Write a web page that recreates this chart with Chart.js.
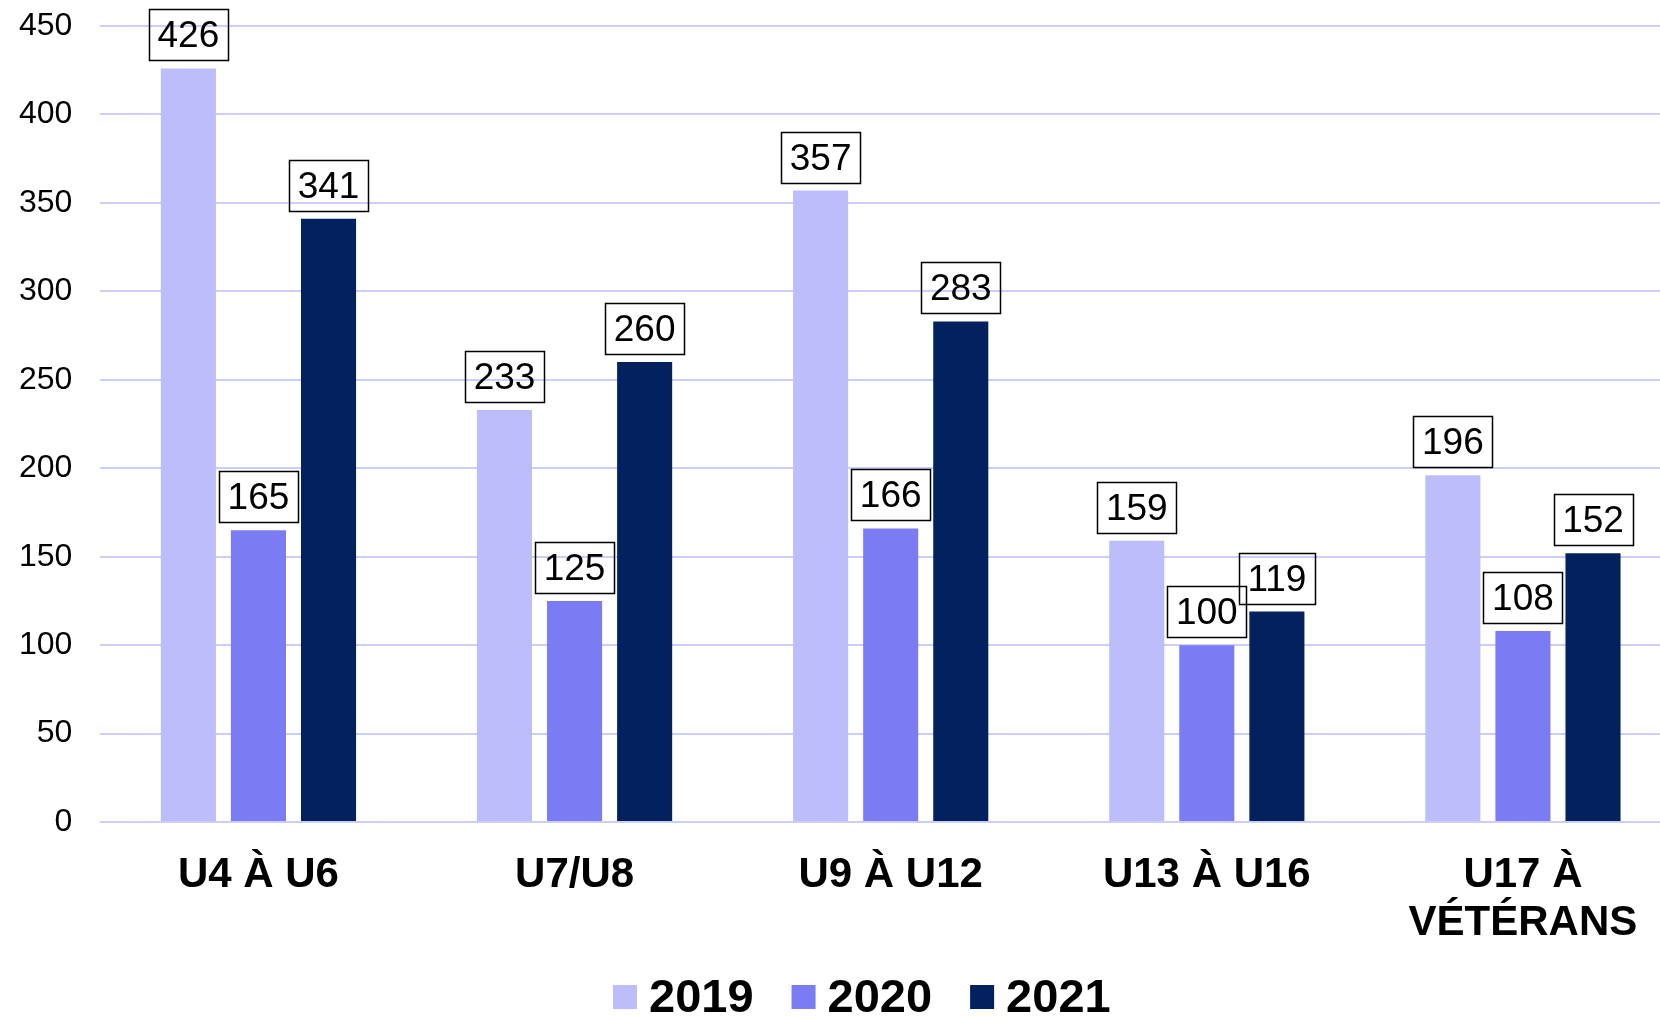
<!DOCTYPE html>
<html><head><meta charset="utf-8">
<script src="https://cdn.jsdelivr.net/npm/chart.js@4/dist/chart.umd.min.js"></script>
<style>
html,body{margin:0;padding:0;background:#fff;overflow:hidden;}
#wrap{width:1660px;height:1017px;overflow:hidden;position:relative;}
canvas{display:block;}
</style></head><body>
<div id="wrap"><canvas id="c" width="1722" height="1017" style="width:1722px;height:1017px"></canvas></div>
<script>
const categories = [["U4 À U6"], ["U7/U8"], ["U9 À U12"], ["U13 À U16"], ["U17 À", "VÉTÉRANS"]];
const seriesNames = ["2019", "2020", "2021"];
const values2019 = [426, 233, 357, 159, 196];
const values2020 = [165, 125, 166, 100, 108];
const values2021 = [341, 260, 283, 119, 152];
const yMin = 0, yMax = 450, yStep = 50;
const colors = ["#BDBDFB", "#7B7BF4", "#03215F"];
const gridColor = "#CDCDFA";
const FONT = '"Liberation Sans", Arial, sans-serif';

const boxLabels = {
  id: 'boxLabels',
  afterDatasetsDraw(chart) {
    const ctx = chart.ctx;
    ctx.save();
    ctx.font = '37px ' + FONT;
    ctx.textAlign = 'center';
    ctx.textBaseline = 'middle';
    chart.data.datasets.forEach((ds, i) => {
      const meta = chart.getDatasetMeta(i);
      meta.data.forEach((bar, j) => {
        const txt = String(ds.data[j]);
        const w = Math.round(ctx.measureText(txt).width + 17);
        const h = 51;
        const bottom = bar.y - 8;
        const top = Math.round(bottom - h);
        ctx.lineWidth = 1.5;
        ctx.strokeStyle = '#000';
        ctx.strokeRect(Math.round(bar.x - w / 2) + 0.5, top + 0.5, w, h);
        ctx.fillStyle = '#000';
        ctx.fillText(txt, bar.x, top + h / 2 + 2);
      });
    });
    ctx.restore();
  }
};

const customLegend = {
  id: 'customLegend',
  afterDraw(chart) {
    const ctx = chart.ctx;
    ctx.save();
    ctx.font = 'bold 47px ' + FONT;
    ctx.textBaseline = 'middle';
    ctx.textAlign = 'left';
    let x = 613;
    const cy = 997;
    chart.data.datasets.forEach((ds) => {
      ctx.fillStyle = ds.backgroundColor;
      ctx.fillRect(x, cy - 12, 24, 24);
      ctx.fillStyle = '#000';
      const tx = x + 36;
      ctx.fillText(ds.label, tx, cy + 2);
      x = tx + ctx.measureText(ds.label).width + 38;
    });
    ctx.restore();
  }
};

new Chart(document.getElementById('c'), {
  type: 'bar',
  data: {
    labels: categories,
    datasets: [
      { label: seriesNames[0], data: values2019, backgroundColor: colors[0] },
      { label: seriesNames[1], data: values2020, backgroundColor: colors[1] },
      { label: seriesNames[2], data: values2021, backgroundColor: colors[2] }
    ]
  },
  options: {
    responsive: false,
    animation: false,
    devicePixelRatio: 1,
    categoryPercentage: 0.665,
    barPercentage: 0.786,
    layout: { padding: { left: 19, right: 41, top: 26, bottom: 40 } },
    plugins: {
      legend: { display: false },
      tooltip: { enabled: false }
    },
    scales: {
      x: {
        grid: { display: false, drawTicks: false },
        border: { display: false },
        ticks: {
          color: '#000',
          padding: 30,
          maxRotation: 0,
          autoSkip: false,
          font: { family: FONT, size: 42, weight: 'bold', lineHeight: 1.13 }
        }
      },
      y: {
        min: yMin, max: yMax,
        grid: { color: gridColor, lineWidth: 2, drawTicks: true, tickLength: 28, tickColor: 'rgba(0,0,0,0)' },
        border: { display: false },
        ticks: {
          stepSize: yStep,
          color: '#000',
          padding: 0,
          font: { family: FONT, size: 32 }
        }
      }
    }
  },
  plugins: [boxLabels, customLegend]
});
</script>
</body></html>
